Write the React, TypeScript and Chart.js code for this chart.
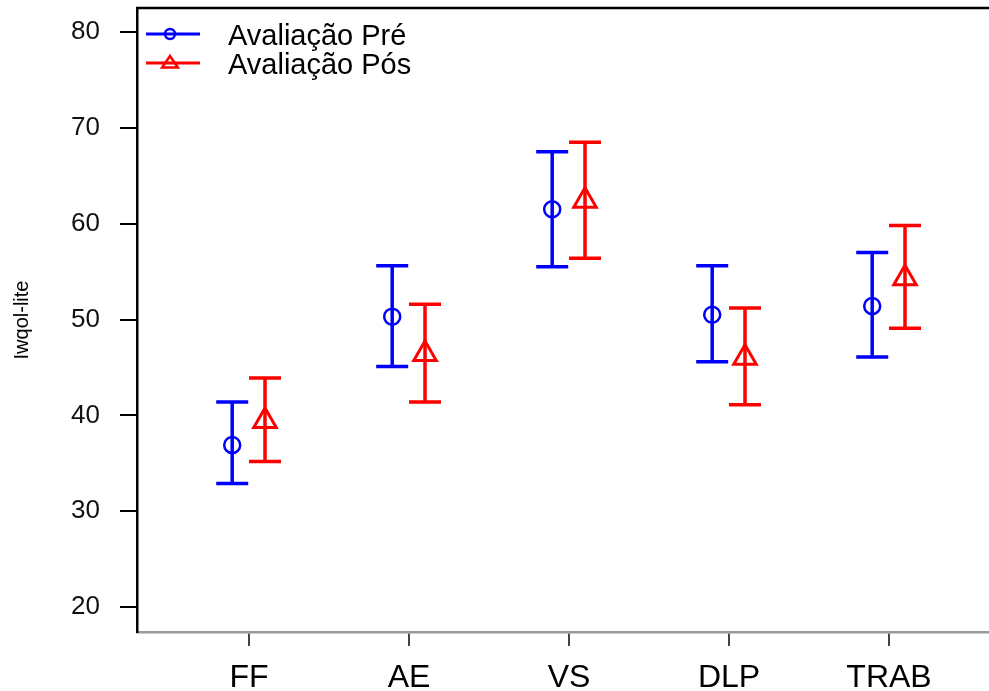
import React, { useEffect, useRef } from "react";
import { Chart, registerables } from "chart.js";

Chart.register(...registerables);

const categories = ["FF", "AE", "VS", "DLP", "TRAB"];
const yTicks = [20, 30, 40, 50, 60, 70, 80];
const seriesLabels = ["Avaliação Pré", "Avaliação Pós"];

const preMean = [36.9, 50.3, 61.5, 50.5, 51.4];
const preLower = [32.9, 45.1, 55.5, 45.6, 46.1];
const preUpper = [41.4, 55.6, 67.5, 55.6, 57.0];

const posMean = [39.4, 46.4, 62.4, 46.0, 54.3];
const posLower = [35.2, 41.4, 56.4, 41.1, 49.1];
const posUpper = [43.9, 51.6, 68.5, 51.2, 59.8];

const BLUE = "#0000FF";
const RED = "#FF0000";
const FONT = "'Liberation Sans', Arial, sans-serif";

const zeroPad = (s: any) => {
  s.paddingTop = 0;
  s.paddingBottom = 0;
  s.paddingLeft = 0;
  s.paddingRight = 0;
};

const errorBarPlugin = {
  id: "errorBars",
  beforeDatasetsDraw(chart: any) {
    const ctx = chart.ctx;
    const xs = chart.scales.x;
    const ys = chart.scales.y;
    chart.data.datasets.forEach((ds: any) => {
      ctx.save();
      ctx.strokeStyle = ds.borderColor;
      ctx.lineWidth = 3.5;
      ds.data.forEach((pt: any, i: number) => {
        const x = xs.getPixelForValue(pt.x);
        const yl = ys.getPixelForValue(ds.lower[i]);
        const yu = ys.getPixelForValue(ds.upper[i]);
        const hw = 16;
        ctx.beginPath();
        ctx.moveTo(x, yl);
        ctx.lineTo(x, yu);
        ctx.moveTo(x - hw, yl);
        ctx.lineTo(x + hw, yl);
        ctx.moveTo(x - hw, yu);
        ctx.lineTo(x + hw, yu);
        ctx.stroke();
      });
      ctx.restore();
    });
  },
};

const framePlugin = {
  id: "frameAndLegend",
  afterDraw(chart: any) {
    const ctx = chart.ctx;
    const a = chart.chartArea;
    ctx.save();
    ctx.strokeStyle = "#000";
    ctx.lineWidth = 2.5;
    ctx.beginPath();
    ctx.moveTo(a.left - 1, a.top);
    ctx.lineTo(a.right, a.top);
    ctx.stroke();

    const items = [
      { label: seriesLabels[0], color: BLUE, style: "circle", y: a.top + 26, ty: a.top + 29 },
      { label: seriesLabels[1], color: RED, style: "triangle", y: a.top + 55, ty: a.top + 58 },
    ];
    items.forEach((it) => {
      ctx.strokeStyle = it.color;
      ctx.lineWidth = 3;
      ctx.beginPath();
      ctx.moveTo(a.left + 9, it.y);
      ctx.lineTo(a.left + 63, it.y);
      ctx.stroke();
      const cx = a.left + 33;
      ctx.lineWidth = 2.5;
      ctx.beginPath();
      if (it.style === "circle") {
        ctx.arc(cx, it.y, 5, 0, Math.PI * 2);
      } else {
        const r = 7;
        ctx.moveTo(cx, it.y - r);
        ctx.lineTo(cx + r * 0.866 * 1.3, it.y + r / 2 + 1);
        ctx.lineTo(cx - r * 0.866 * 1.3, it.y + r / 2 + 1);
        ctx.closePath();
      }
      ctx.stroke();
      ctx.fillStyle = "#000";
      ctx.font = `29px ${FONT}`;
      ctx.textBaseline = "middle";
      ctx.textAlign = "left";
      ctx.fillText(it.label, a.left + 91, it.ty);
    });
    ctx.restore();
  },
};

export default function App() {
  const ref = useRef<HTMLCanvasElement | null>(null);

  useEffect(() => {
    if (!ref.current) return;
    const offPre = -0.105;
    const offPos = 0.1;
    const chart = new Chart(ref.current, {
      type: "scatter",
      data: {
        datasets: [
          {
            label: seriesLabels[0],
            data: preMean.map((v, i) => ({ x: i + 1 + offPre, y: v })),
            lower: preLower,
            upper: preUpper,
            borderColor: BLUE,
            backgroundColor: "rgba(0,0,0,0)",
            pointStyle: "circle",
            pointRadius: 8,
            pointBorderWidth: 2.5,
          } as any,
          {
            label: seriesLabels[1],
            data: posMean.map((v, i) => ({ x: i + 1 + offPos, y: v })),
            lower: posLower,
            upper: posUpper,
            borderColor: RED,
            backgroundColor: "rgba(0,0,0,0)",
            pointStyle: "triangle",
            pointRadius: 13,
            pointBorderWidth: 3,
          } as any,
        ],
      },
      options: {
        animation: false,
        responsive: false,
        layout: { autoPadding: false, padding: { top: 8, right: 0, bottom: 0, left: 0 } },
        plugins: {
          legend: { display: false },
          tooltip: { enabled: false },
        },
        scales: {
          x: {
            type: "linear",
            min: 0.3,
            max: 5.625,
            afterFit: (s: any) => {
              s.height = 59;
              zeroPad(s);
            },
            afterBuildTicks: (s: any) => {
              s.ticks = categories.map((_, i) => ({ value: i + 1 }));
            },
            ticks: {
              autoSkip: false,
              maxRotation: 0,
              padding: 13,
              color: "#000",
              font: { family: FONT, size: 32 },
              callback: (v: any) => categories[Math.round(Number(v)) - 1] ?? "",
            },
            grid: {
              drawOnChartArea: false,
              drawTicks: true,
              tickLength: 14,
              color: "#444",
              lineWidth: 2,
            },
            border: { display: true, color: "#999", width: 2.5 },
          },
          y: {
            type: "linear",
            min: 17.4,
            max: 82.5,
            afterFit: (s: any) => {
              s.width = 137;
              zeroPad(s);
            },
            afterBuildTicks: (s: any) => {
              s.ticks = yTicks.map((v) => ({ value: v }));
            },
            ticks: {
              padding: 20,
              color: "#111",
              font: { family: FONT, size: 26 },
              callback: (v: any) => String(v),
            },
            grid: {
              drawOnChartArea: false,
              drawTicks: true,
              tickLength: 17,
              color: "#000",
              lineWidth: 2,
            },
            border: { display: true, color: "#000", width: 2.5 },
            title: {
              display: true,
              text: "Iwqol-lite",
              color: "#000",
              font: { family: FONT, size: 20 },
              padding: { top: 10, bottom: 0 },
            },
          },
        },
      },
      plugins: [errorBarPlugin, framePlugin],
    });
    return () => chart.destroy();
  }, []);

  return (
    <div style={{ position: "absolute", left: 0, top: 0, width: 989, height: 691, background: "#fff" }}>
      <canvas ref={ref} width={989} height={691} style={{ display: "block" }} />
    </div>
  );
}
